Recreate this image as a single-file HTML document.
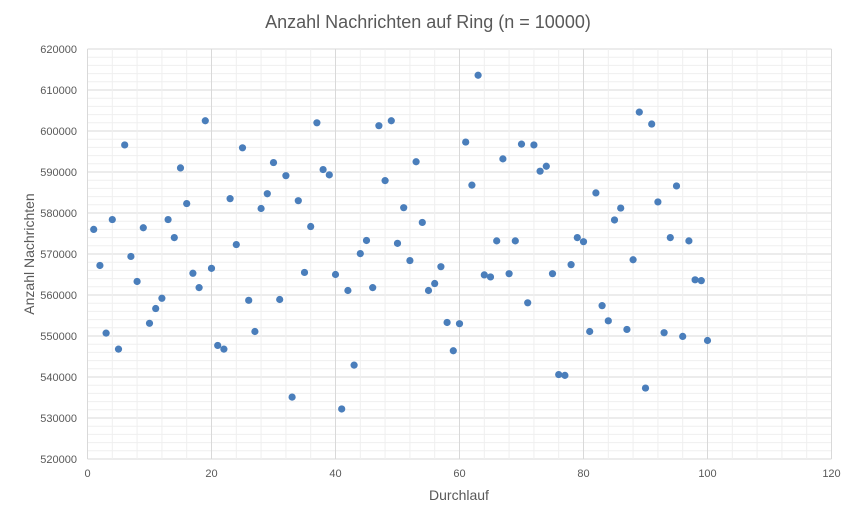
<!DOCTYPE html>
<html><head><meta charset="utf-8"><style>
body{margin:0;background:#fff;width:856px;height:508px;overflow:hidden;font-family:"Liberation Sans",sans-serif}
</style></head><body>
<svg id="chart" width="856" height="508" xmlns="http://www.w3.org/2000/svg">
<text x="428" y="28" text-anchor="middle" font-size="18" fill="#595959" font-family="Liberation Sans, sans-serif">Anzahl Nachrichten auf Ring (n = 10000)</text>
<g id="grid"></g>
<g id="yticks"></g>
<g id="xticks"></g>
<g id="points"></g>
<text x="459" y="500" text-anchor="middle" font-size="14" fill="#595959">Durchlauf</text>
<text transform="translate(34,254) rotate(-90)" text-anchor="middle" font-size="14" fill="#595959">Anzahl  Nachrichten</text>
</svg>
<script>
const xTicks=[0,20,40,60,80,100,120];
const yTicks=[520000,530000,540000,550000,560000,570000,580000,590000,600000,610000,620000];
const values=[576000,567200,550700,578400,546800,596600,569400,563300,576400,553100,
556700,559200,578400,574000,591000,582300,565300,561800,602500,566500,
547700,546800,583500,572300,595900,558700,551100,581100,584700,592300,
558900,589100,535100,583000,565500,576700,602000,590600,589300,565000,
532200,561100,542900,570100,573300,561800,601300,587900,602500,572600,
581300,568400,592500,577700,561100,562800,566900,553300,546400,553000,
597300,586800,613600,564900,564400,573200,593200,565200,573200,596800,
558100,596600,590200,591400,565200,540600,540400,567400,574000,573000,
551100,584900,557400,553700,578300,581200,551600,568600,604600,537300,
601700,582700,550800,574000,586600,549900,573200,563700,563500,548900];
const L=87.5,R=831.5,T=49,B=459;
const xs=v=>L+(v-0)/120*(R-L);
const ys=v=>B-(v-520000)/100000*(B-T);
const NS="http://www.w3.org/2000/svg";
function mk(tag,at,parent){const e=document.createElementNS(NS,tag);for(const k in at)e.setAttribute(k,at[k]);parent.appendChild(e);return e;}
const g=document.getElementById('grid');
for(let v=520000;v<=620000;v+=2000){const l=mk('line',{x1:L,x2:R,y1:ys(v),y2:ys(v),stroke:v%10000===0?'#d9d9d9':'#efefef','stroke-width':1},g);

}
for(let v=0;v<=120;v+=4){const l=mk('line',{x1:xs(v),x2:xs(v),y1:T,y2:B,stroke:v%20===0?'#d9d9d9':'#efefef','stroke-width':1},g);

}
const yt=document.getElementById('yticks');
yTicks.forEach(v=>{const t=mk('text',{x:77,y:ys(v)+4,'text-anchor':'end','font-size':11,fill:'#595959'},yt);t.textContent=v;

});
const xt=document.getElementById('xticks');
xTicks.forEach(v=>{const t=mk('text',{x:xs(v),y:477,'text-anchor':'middle','font-size':11,fill:'#595959'},xt);t.textContent=v;

});
const p=document.getElementById('points');
values.forEach((v,i)=>{const c=mk('circle',{cx:xs(i+1),cy:ys(v),r:3.6,fill:'#4a7ebb'},p);

});
</script>
</body></html>
